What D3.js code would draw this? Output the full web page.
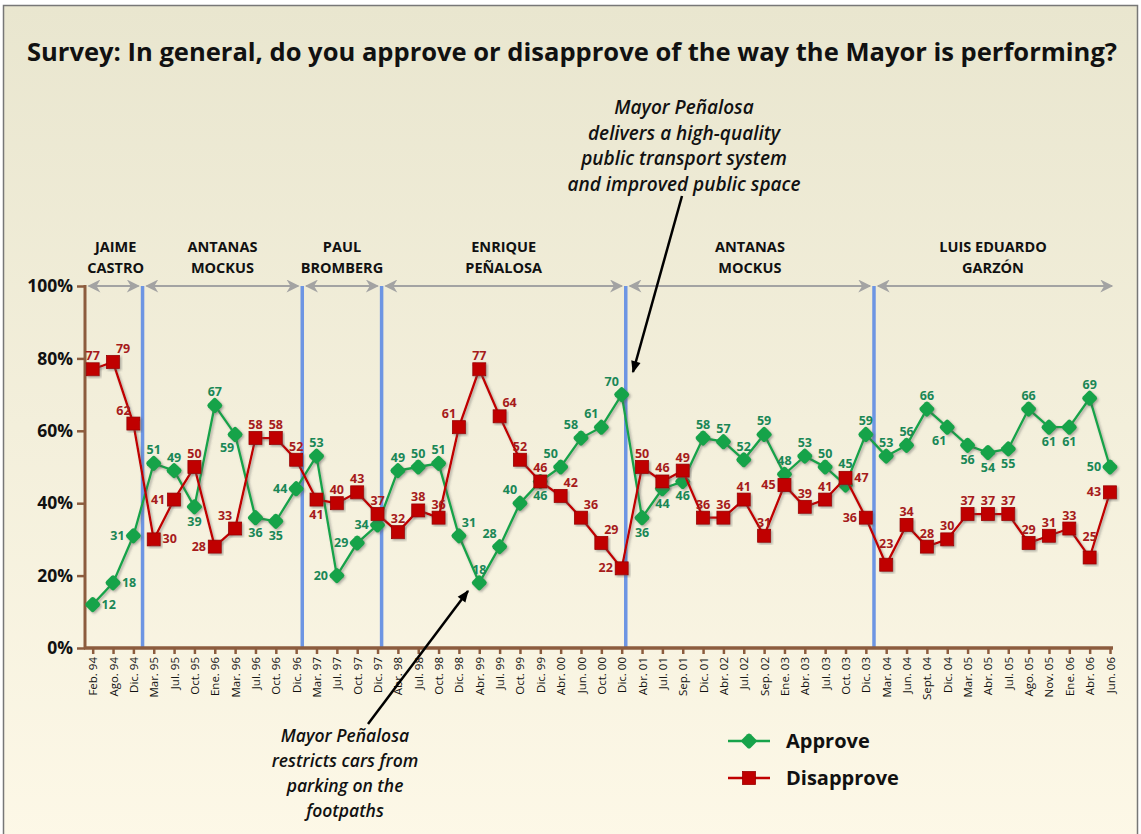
<!DOCTYPE html>
<html>
<head>
<meta charset="utf-8">
<script src="https://cdn.jsdelivr.net/npm/d3@7"></script>
<style>
  body { margin: 0; background: #fff; }
  svg { display: block; font-family: "Open Sans", "Noto Sans", sans-serif; }
</style>
</head>
<body>
<svg id="chart" width="1141" height="834"></svg>
<script>
'use strict';

const dates = ['Feb. 94', 'Ago. 94', 'Dic. 94', 'Mar. 95', 'Jul. 95', 'Oct. 95', 'Ene. 96',
  'Mar. 96', 'Jul. 96', 'Oct. 96', 'Dic. 96', 'Mar. 97', 'Jul. 97', 'Oct. 97', 'Dic. 97',
  'Abr. 98', 'Jul. 98', 'Oct. 98', 'Dic. 98', 'Abr. 99', 'Jul. 99', 'Oct. 99', 'Dic. 99',
  'Abr. 00', 'Jun. 00', 'Oct. 00', 'Dic. 00', 'Abr. 01', 'Jul. 01', 'Sep. 01', 'Dic. 01',
  'Abr. 02', 'Jul. 02', 'Sep. 02', 'Ene. 03', 'Abr. 03', 'Jul. 03', 'Oct. 03', 'Dic. 03',
  'Mar. 04', 'Jun. 04', 'Sept. 04', 'Dic. 04', 'Mar. 05', 'Abr. 05', 'Jul. 05', 'Ago. 05',
  'Nov. 05', 'Ene. 06', 'Abr. 06', 'Jun. 06'];

const approve = [12, 18, 31, 51, 49, 39, 67, 59, 36, 35, 44, 53, 20, 29, 34, 49, 50, 51, 31,
  18, 28, 40, 46, 50, 58, 61, 70, 36, 44, 46, 58, 57, 52, 59, 48, 53, 50, 45, 59, 53, 56, 66,
  61, 56, 54, 55, 66, 61, 61, 69, 50];

const disapprove = [77, 79, 62, 30, 41, 50, 28, 33, 58, 58, 52, 41, 40, 43, 37, 32, 38, 36,
  61, 77, 64, 52, 46, 42, 36, 29, 22, 50, 46, 49, 36, 36, 41, 31, 45, 39, 41, 47, 36, 23, 34,
  28, 30, 37, 37, 37, 29, 31, 33, 25, 43];

// where each value label sits relative to its marker
const approveLabelPos = ['r', 'r', 'l', 'a', 'a', 'b', 'a', 'bl', 'b', 'b', 'l', 'a', 'l', 'l',
  'l', 'a', 'a', 'a', 'ar', 'a', 'al', 'al', 'b', 'al', 'al', 'al', 'al', 'b', 'b', 'b', 'a',
  'a', 'a', 'a', 'a', 'a', 'a', 'aa', 'a', 'a', 'a', 'a', 'bl', 'b', 'b', 'b', 'a', 'b', 'b',
  'a', 'l'];
const disapproveLabelPos = ['a', 'ar', 'al', 'r', 'l', 'a', 'l', 'al', 'a', 'a', 'a', 'b', 'a',
  'a', 'a', 'a', 'a', 'a', 'al', 'a', 'ar', 'a', 'a', 'ar', 'ar', 'ar', 'l', 'a', 'a', 'a', 'a',
  'a', 'a', 'a', 'l', 'a', 'a', 'r', 'l', 'aa', 'a', 'a', 'a', 'a', 'a', 'a', 'a', 'a', 'a',
  'aa', 'l'];

// mayoral terms, boundaries in date-index units
const termNames = [['JAIME', 'CASTRO'], ['ANTANAS', 'MOCKUS'], ['PAUL', 'BROMBERG'],
  ['ENRIQUE', 'PEÑALOSA'], ['ANTANAS', 'MOCKUS'], ['LUIS EDUARDO', 'GARZÓN']];
const termBreaks = [2.45, 10.3, 14.2, 26.2, 38.4];

const yTicks = [0, 20, 40, 60, 80, 100];

const GREEN = '#17a34a';
const GREEN_TEXT = '#1a8756';
const RED = '#c00000';
const RED_TEXT = '#a61b1b';
const AXIS = '#8c5c3e';
const BLUE = '#6d95e3';
const GRAY = '#a3a3a3';

let svg = d3.select('#chart');
let defs = svg.append('defs');

let grad = defs.append('linearGradient')
  .attr('id', 'bg').attr('x1', 0).attr('y1', 0).attr('x2', 0).attr('y2', 1);
grad.append('stop').attr('offset', '0%').attr('stop-color', '#e9e6cf');
grad.append('stop').attr('offset', '100%').attr('stop-color', '#fdf8e7');

let shadow = defs.append('filter').attr('id', 'shadow')
  .attr('x', '-20%').attr('y', '-20%').attr('width', '140%').attr('height', '140%');
shadow.append('feDropShadow')
  .attr('dx', 1.5).attr('dy', 1.5).attr('stdDeviation', 0.8)
  .attr('flood-color', '#555').attr('flood-opacity', 0.45);

['grayhead', 'blackhead'].forEach(function(id) {
  defs.append('marker')
    .attr('id', id)
    .attr('viewBox', '0 0 10 10')
    .attr('refX', 9).attr('refY', 5)
    .attr('markerUnits', 'userSpaceOnUse')
    .attr('markerWidth', id === 'grayhead' ? 15 : 16)
    .attr('markerHeight', id === 'grayhead' ? 13 : 12)
    .attr('orient', 'auto-start-reverse')
    .append('path')
      .attr('d', id === 'grayhead' ? 'M0,0 L10,5 L0,10 L3,5 Z' : 'M0,1 L10,5 L0,9 Z')
      .attr('fill', id === 'grayhead' ? GRAY : '#000');
});

// background and frame
svg.append('rect')
  .attr('x', 3.5).attr('y', 5.5).attr('width', 1134).attr('height', 840)
  .attr('fill', 'url(#bg)').attr('stroke', '#777').attr('stroke-width', 1.5);

let x = d3.scaleLinear().domain([0, dates.length - 1]).range([92.7, 1110]);
let y = d3.scaleLinear().domain([0, 100]).range([648, 286]);

// title, stretched to the reference width
svg.append('text')
  .attr('x', 572).attr('y', 61)
  .attr('text-anchor', 'middle')
  .attr('font-size', 25).attr('font-weight', 700)
  .attr('fill', '#111')
  .attr('textLength', 1090).attr('lengthAdjust', 'spacingAndGlyphs')
  .text('Survey: In general, do you approve or disapprove of the way the Mayor is performing?');

// term separators
svg.append('g').selectAll('line')
  .data(termBreaks)
  .enter().append('line')
    .attr('x1', function(d) { return x(d); })
    .attr('x2', function(d) { return x(d); })
    .attr('y1', y(100)).attr('y2', y(0))
    .attr('stroke', BLUE).attr('stroke-width', 3.5);

// term arrows and names
let bounds = [x(0) - 4].concat(termBreaks.map(function(d) { return x(d); }), [x(dates.length - 1) + 2]);
let terms = svg.append('g').selectAll('g')
  .data(termNames)
  .enter().append('g');

terms.append('line')
  .attr('x1', function(d, i) { return bounds[i] + (i === 0 ? 0 : 4); })
  .attr('x2', function(d, i) { return bounds[i + 1] - (i === termNames.length - 1 ? 0 : 4); })
  .attr('y1', y(100)).attr('y2', y(100))
  .attr('stroke', GRAY).attr('stroke-width', 2)
  .attr('marker-start', 'url(#grayhead)')
  .attr('marker-end', 'url(#grayhead)');

terms.append('text')
  .attr('text-anchor', 'middle')
  .attr('font-size', 14.5).attr('font-weight', 700).attr('fill', '#111')
  .attr('transform', function(d, i) {
    return 'translate(' + ((bounds[i] + bounds[i + 1]) / 2) + ',0)';
  })
  .selectAll('tspan')
  .data(function(d) { return d; })
  .enter().append('tspan')
    .attr('x', 0)
    .attr('y', function(d, j) { return 252 + j * 21; })
    .text(function(d) { return d; });

// axes
let yAxis = svg.append('g')
  .attr('transform', 'translate(85,0)')
  .call(d3.axisLeft(y).tickValues(yTicks).tickSize(8).tickPadding(4)
    .tickFormat(function(d) { return d + '%'; }));
yAxis.select('.domain').remove();
yAxis.selectAll('.tick line').attr('stroke', AXIS).attr('stroke-width', 2.5);
yAxis.selectAll('.tick text')
  .attr('font-size', 17.5).attr('font-weight', 700).attr('fill', '#111')
  .attr('font-family', '"Open Sans", sans-serif');
yAxis.append('line')
  .attr('x1', 0).attr('x2', 0).attr('y1', y(100) - 1).attr('y2', y(0))
  .attr('stroke', AXIS).attr('stroke-width', 3);

let xAxis = svg.append('g')
  .attr('transform', 'translate(0,' + y(0) + ')')
  .call(d3.axisBottom(x).tickValues(d3.range(dates.length)).tickSize(6)
    .tickFormat(function(i) { return dates[i]; }));
xAxis.select('.domain').remove();
xAxis.selectAll('.tick line').attr('stroke', AXIS).attr('stroke-width', 2.5);
xAxis.selectAll('.tick text')
  .attr('font-size', 11.5).attr('fill', '#111')
  .attr('font-family', '"Open Sans", sans-serif')
  .attr('text-anchor', 'end')
  .attr('transform', 'rotate(-90)')
  .attr('x', -9).attr('y', 0).attr('dy', '0.35em');
xAxis.append('line')
  .attr('x1', 84).attr('x2', 1113).attr('y1', 0).attr('y2', 0)
  .attr('stroke', AXIS).attr('stroke-width', 3.5);

// series
let series = [
  { values: approve, pos: approveLabelPos, color: GREEN, text: GREEN_TEXT, shape: 'diamond' },
  { values: disapprove, pos: disapproveLabelPos, color: RED, text: RED_TEXT, shape: 'square' }
];

let line = d3.line()
  .x(function(d, i) { return x(i); })
  .y(function(d) { return y(d); });

function drawMarker(sel, shape, color) {
  if (shape === 'diamond') {
    sel.append('rect')
      .attr('x', -6).attr('y', -6).attr('width', 12).attr('height', 12)
      .attr('rx', 2.5)
      .attr('transform', 'rotate(45)')
      .attr('fill', color);
  } else {
    sel.append('rect')
      .attr('x', -6.5).attr('y', -6.5).attr('width', 13).attr('height', 13)
      .attr('fill', color)
      .attr('stroke', '#9a0000').attr('stroke-width', 0.8);
  }
}

const LABEL_OFFSET = {
  a: [0, -9], aa: [0, -17], b: [0, 19], l: [-16, 4], r: [16, 4],
  al: [-10, -9], ar: [10, -9], bl: [-8, 18], br: [8, 18]
};

series.forEach(function(s) {
  let g = svg.append('g');
  g.append('path')
    .datum(s.values)
    .attr('d', line)
    .attr('fill', 'none')
    .attr('stroke', s.color).attr('stroke-width', 2.3)
    .attr('filter', 'url(#shadow)');

  let pts = g.selectAll('g.pt')
    .data(s.values)
    .enter().append('g')
      .attr('class', 'pt')
      .attr('transform', function(d, i) { return 'translate(' + x(i) + ',' + y(d) + ')'; })
      .attr('filter', 'url(#shadow)');
  drawMarker(pts, s.shape, s.color);

  g.selectAll('text.val')
    .data(s.values)
    .enter().append('text')
      .attr('class', 'val')
      .attr('text-anchor', 'middle')
      .attr('font-size', 12.5).attr('font-weight', 700)
      .attr('fill', s.text)
      .attr('x', function(d, i) { return x(i) + LABEL_OFFSET[s.pos[i]][0]; })
      .attr('y', function(d, i) { return y(d) + LABEL_OFFSET[s.pos[i]][1]; })
      .text(function(d) { return d; });
});

// annotations
function annotation(lines, cx, y0, step, size) {
  svg.append('text')
    .attr('text-anchor', 'middle')
    .attr('font-size', size).attr('font-style', 'italic').attr('font-weight', 600)
    .attr('fill', '#111')
    .selectAll('tspan')
    .data(lines)
    .enter().append('tspan')
      .attr('x', cx)
      .attr('y', function(d, i) { return y0 + i * step; })
      .text(function(d) { return d; });
}

annotation(['Mayor Peñalosa', 'delivers a high-quality', 'public transport system',
  'and improved public space'], 684, 114, 25.5, 19);
annotation(['Mayor Peñalosa', 'restricts cars from', 'parking on the', 'footpaths'],
  345, 742, 25, 17.5);

svg.append('line')
  .attr('x1', 682).attr('y1', 196).attr('x2', 633).attr('y2', 372)
  .attr('stroke', '#000').attr('stroke-width', 2.5)
  .attr('marker-end', 'url(#blackhead)');
svg.append('line')
  .attr('x1', 368).attr('y1', 724).attr('x2', 468).attr('y2', 591)
  .attr('stroke', '#000').attr('stroke-width', 2.5)
  .attr('marker-end', 'url(#blackhead)');

// legend
let legend = svg.append('g');
series.forEach(function(s, i) {
  let ly = 741 + i * 37;
  legend.append('line')
    .attr('x1', 728).attr('x2', 770).attr('y1', ly).attr('y2', ly)
    .attr('stroke', s.color).attr('stroke-width', 2.3);
  let m = legend.append('g').attr('transform', 'translate(749,' + ly + ')');
  drawMarker(m, s.shape, s.color);
  legend.append('text')
    .attr('x', 786).attr('y', ly + 7)
    .attr('font-size', 20).attr('font-weight', 700).attr('fill', '#111')
    .text(i === 0 ? 'Approve' : 'Disapprove');
});
</script>
</body>
</html>
